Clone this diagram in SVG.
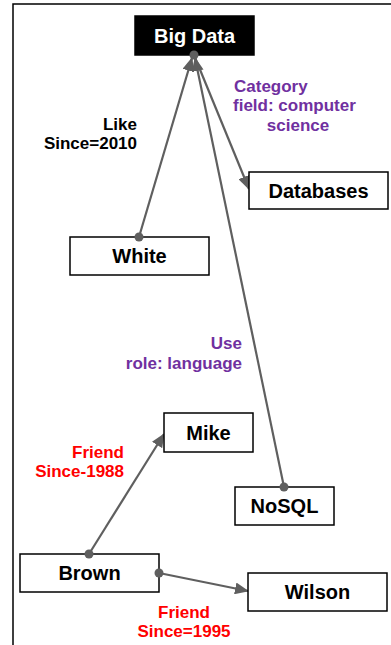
<svg xmlns="http://www.w3.org/2000/svg" width="391" height="645" viewBox="0 0 391 645">
<style>
text{font-family:"Liberation Sans",Arial,sans-serif;font-weight:bold}
.node rect{fill:#fff;stroke:#000;stroke-width:1.5}
.node text{font-size:20px;fill:#000;text-anchor:middle}
.lbl{font-size:17px}
.blk{fill:#000}
.pur{fill:#7030A0}
.red{fill:#FF0000}
.conn line{stroke:#5f5f5f;stroke-width:2.2;fill:none}
.conn circle{fill:#5f5f5f}
</style>
<defs>
<marker id="arr" markerUnits="userSpaceOnUse" markerWidth="14" markerHeight="12" viewBox="0 0 14 12" refX="13" refY="6" orient="auto">
<path d="M0,0 L14,6 L0,12 z" fill="#5f5f5f"/>
</marker>
</defs>
<g id="frame">
<path d="M13,645 L13,4 L391,4" fill="none" stroke="#000" stroke-width="1.5"/>
</g>
<g id="connectors" class="conn">
<line x1="139" y1="237" x2="192" y2="58" marker-end="url(#arr)"/>
<line x1="284" y1="487" x2="195" y2="58" marker-end="url(#arr)"/>
<line x1="194" y1="55" x2="249" y2="189" marker-end="url(#arr)"/>
<line x1="89" y1="554" x2="164" y2="434" marker-end="url(#arr)"/>
<line x1="159" y1="573" x2="248" y2="591" marker-end="url(#arr)"/>
</g>
<g id="bigdata" class="node">
<rect x="135" y="16" width="119" height="39" style="fill:#000"/>
<text x="194.5" y="43" style="fill:#fff">Big Data</text>
</g>
<g id="databases" class="node">
<rect x="249" y="172" width="139" height="37"/>
<text x="318.5" y="198">Databases</text>
</g>
<g id="white" class="node">
<rect x="70" y="237" width="139" height="38"/>
<text x="139.5" y="263">White</text>
</g>
<g id="mike" class="node">
<rect x="164" y="413" width="89" height="39"/>
<text x="208.5" y="440">Mike</text>
</g>
<g id="nosql" class="node">
<rect x="235" y="487" width="99" height="38"/>
<text x="284.5" y="513">NoSQL</text>
</g>
<g id="brown" class="node">
<rect x="20" y="554" width="139" height="38"/>
<text x="89.5" y="580">Brown</text>
</g>
<g id="wilson" class="node">
<rect x="248" y="573" width="139" height="38"/>
<text x="317.5" y="599">Wilson</text>
</g>
<g id="dots" class="conn">
<circle cx="194" cy="55" r="4.5"/>
<circle cx="139" cy="237" r="4.5"/>
<circle cx="284" cy="487" r="4.5"/>
<circle cx="89" cy="554" r="4.5"/>
<circle cx="159" cy="573" r="4.5"/>
</g>
<g id="labels">
<text class="lbl blk" x="137" y="130" text-anchor="end">Like</text>
<text class="lbl blk" x="137" y="149" text-anchor="end">Since=2010</text>
<text class="lbl pur" x="234" y="92">Category</text>
<text class="lbl pur" x="233" y="111">field: computer</text>
<text class="lbl pur" x="298" y="131" text-anchor="middle">science</text>
<text class="lbl pur" x="242" y="349" text-anchor="end">Use</text>
<text class="lbl pur" x="242" y="369" text-anchor="end">role: language</text>
<text class="lbl red" x="124" y="458" text-anchor="end">Friend</text>
<text class="lbl red" x="124" y="477" text-anchor="end">Since-1988</text>
<text class="lbl red" x="184" y="618" text-anchor="middle">Friend</text>
<text class="lbl red" x="184" y="637" text-anchor="middle">Since=1995</text>
</g>
</svg>
